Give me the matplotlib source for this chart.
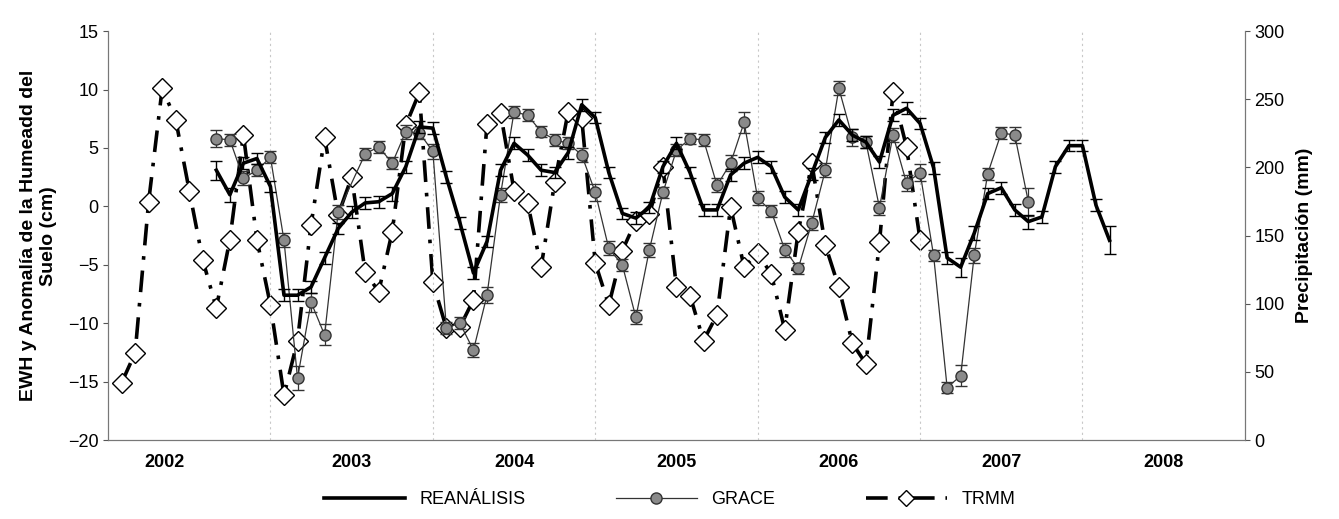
import numpy as np
import matplotlib
matplotlib.use("Agg")
import matplotlib.pyplot as plt

plt.rcParams['font.family'] = ['Liberation Sans', 'DejaVu Sans']

# month index k: 0 = Jan 2003
trmm_k = list(range(-11, 49))
trmm_mm = [42, 64, 175, 258, 235, 183, 132, 97, 147, 224, 147, 99,
           33, 73, 158, 222, 165, 193, 123, 109, 153, 231, 255, 116,
           82, 83, 103, 232, 240, 183, 174, 127, 189, 241, 236, 130,
           99, 139, 161, 166, 200, 112, 106, 73, 92, 171, 127, 137,
           122, 81, 153, 203, 143, 112, 71, 56, 145, 255, 215, 147]

grace_k = [-4, -3, -2, -1, 0, 1, 2, 3, 4, 5, 7, 8, 9, 10, 11, 12, 13, 14, 15, 16, 17, 18, 19,
           20, 21, 22, 23, 24, 25, 26, 27, 28, 29, 30, 31, 32, 33, 34, 35, 36, 37, 38, 39,
           40, 41, 42, 43, 44, 45, 46, 47, 48, 49, 50, 51, 52, 53, 54, 55, 56]
grace_cm = [5.8, 5.7, 2.4, 3.1, 4.2, -2.9, -14.7, -8.2, -11.0, -0.5, 4.5, 5.1, 3.7, 6.4, 6.3, 4.7,
            -10.4, -10.0, -12.3, -7.6, 1.0, 8.1, 7.8,
            6.4, 5.7, 5.4, 4.4, 1.2, -3.6, -5.0, -9.5, -3.7, 1.2, 4.8, 5.8, 5.7, 1.8, 3.7, 7.2,
            0.7, -0.4, -3.7, -5.3, -1.4, 3.1, 10.1, 5.9, 5.5, -0.1, 6.1, 2.0, 2.9, -4.2, -15.5,
            -14.5, -4.2, 2.8, 6.3, 6.1, 0.4]
grace_err = [0.7, 0.5, 0.6, 0.5, 0.5, 0.6, 1.0, 0.8, 0.9, 0.6, 0.5, 0.5, 0.5, 0.6, 0.5, 0.6,
             0.5, 0.5, 0.6, 0.7, 0.6, 0.5, 0.5,
             0.5, 0.5, 0.5, 0.6, 0.7, 0.6, 0.5, 0.6, 0.6, 0.5, 0.5, 0.5, 0.5, 0.6, 0.7, 0.9,
             0.6, 0.5, 0.6, 0.5, 0.6, 0.6, 0.6, 0.7, 0.5, 0.6, 0.6, 0.7, 0.7, 0.5, 0.5,
             0.9, 0.6, 0.5, 0.5, 0.7, 1.2]

rean_k = list(range(-4, 63))
rean_cm = [3.1, 1.0, 3.7, 4.1, 1.7, -7.6, -7.6, -6.9, -4.4, -1.9, -0.5, 0.3, 0.4, 1.1, 3.4, 6.8,
           6.7, 2.5, -1.4, -5.7, -3.0, 3.1, 5.4, 4.4, 3.1, 2.9, 4.6, 8.7, 7.6, 2.9, -0.6, -1.0,
           -0.1, 3.4, 5.4, 2.9, -0.3, -0.3, 2.7, 3.7, 4.2, 3.4, 0.8, -0.3, 2.8, 5.9, 7.4, 6.1,
           5.5, 3.8, 7.8, 8.4, 7.1, 3.3, -4.4, -5.2, -2.3, 1.1, 1.6, -0.3, -1.3, -0.9, 3.4,
           5.2, 5.2, 0.1, -2.9]
rean_err = [0.8, 0.6, 0.5, 0.5, 0.5, 0.5, 0.5, 0.5, 0.5, 0.5, 0.5, 0.5, 0.5, 0.6, 0.5, 0.5,
            0.5, 0.5, 0.5, 0.5, 0.5, 0.5, 0.5, 0.5, 0.5, 0.5, 0.5, 0.5, 0.5, 0.5, 0.5, 0.5,
            0.5, 0.5, 0.5, 0.5, 0.5, 0.5, 0.5, 0.5, 0.5, 0.5, 0.5, 0.5, 0.5, 0.5, 0.5, 0.5,
            0.5, 0.5, 0.5, 0.5, 0.5, 0.5, 0.5, 0.8, 0.6, 0.5, 0.5, 0.5, 0.6, 0.5, 0.5,
            0.5, 0.5, 0.5, 1.2]

years = [2002, 2003, 2004, 2005, 2006, 2007, 2008]
year_label_pos = [2002.35, 2003.5, 2004.5, 2005.5, 2006.5, 2007.5, 2008.5]

def kt(ks):
    return [2003 + k / 12 for k in ks]

fig = plt.figure(figsize=(13.39, 5.19), dpi=100)
ax = fig.add_axes([0.0807, 0.152, 0.849, 0.788])
ax2 = ax.twinx()

for y in years[1:]:
    ax.axvline(y, color='#c8c8c8', lw=0.8, ls=(0, (2, 3)), zorder=0)

ax2.plot(kt(trmm_k), trmm_mm, color='black', lw=2.6, ls=(0, (6, 3, 1, 3)),
         marker='D', ms=10, mfc='white', mec='black', mew=1.0, zorder=2)

ax.errorbar(kt(grace_k), grace_cm, yerr=grace_err, color='#333333', lw=0.9,
            marker='o', ms=8, mfc='#8a8a8a', mec='#333333', capsize=4, elinewidth=0.9, zorder=3)
ax.errorbar(kt(rean_k), rean_cm, yerr=rean_err, color='black', lw=2.6,
            capsize=4, elinewidth=1.0, zorder=4)

ax.set_zorder(ax2.get_zorder() + 1)
ax.patch.set_visible(False)

ax.set_xlim(2002.0, 2009.0)
ax.set_ylim(-20, 15)
ax.set_yticks(range(-20, 16, 5))
ax2.set_ylim(0, 300)
ax2.set_yticks(range(0, 301, 50))
ax.set_xticks([])
for a in (ax, ax2):
    a.tick_params(labelsize=13, color='#555555')
    for s in a.spines.values():
        s.set_color('#777777')
ax.spines['top'].set_visible(False)
ax2.spines['top'].set_visible(False)

for yl, p in zip(years, year_label_pos):
    ax.text(p, -0.055, str(yl), transform=ax.get_xaxis_transform(), ha='center', va='center',
            fontsize=13, fontweight='bold')

ax.set_ylabel('EWH y Anomalía de la Humeadd del\nSuelo (cm)', fontsize=14, fontweight='bold', labelpad=8)
ax2.set_ylabel('Precipitación (mm)', fontsize=14, fontweight='bold', labelpad=8)

from matplotlib.lines import Line2D
handles = [Line2D([], [], color='black', lw=2.6),
           Line2D([], [], color='#333333', lw=0.9, marker='o', ms=8, mfc='#8a8a8a', mec='#333333'),
           Line2D([], [], color='black', lw=2.6, ls=(0, (6, 3, 1, 3)), marker='D', ms=8,
                  mfc='white', mec='black')]
fig.legend(handles, ['REANÁLISIS', 'GRACE', 'TRMM'], loc='lower center', ncol=3,
           frameon=False, fontsize=13, bbox_to_anchor=(0.5, -0.01), columnspacing=5, handlelength=4.5)

fig.savefig('out.png', dpi=100)
